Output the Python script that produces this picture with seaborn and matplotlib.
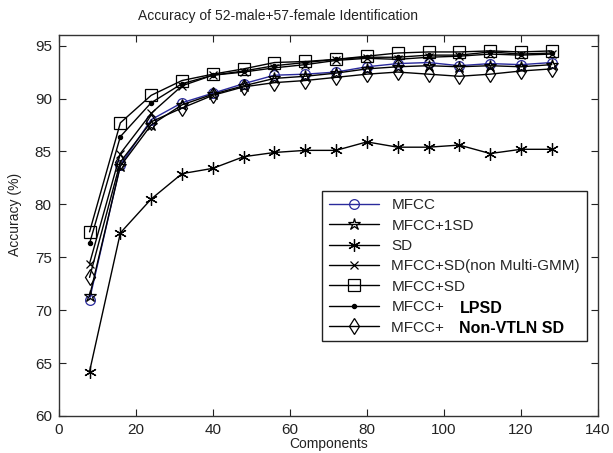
import matplotlib
matplotlib.use("Agg")
import matplotlib.pyplot as plt
import pandas as pd
import seaborn as sns

# GMM components on the x axis
components = [8, 16, 24, 32, 40, 48, 56, 64, 72, 80, 88, 96, 104, 112, 120, 128]

# accuracy (%) per feature set
mfcc = [71.0, 83.7, 88.0, 89.6, 90.5, 91.4, 92.2, 92.3, 92.5, 93.0, 93.3, 93.4, 93.1, 93.3, 93.2, 93.4]
mfcc_1sd = [71.3, 83.6, 87.5, 89.4, 90.4, 91.2, 91.9, 92.1, 92.4, 92.8, 93.0, 93.1, 93.0, 93.1, 93.0, 93.2]
sd = [64.2, 77.3, 80.5, 82.9, 83.4, 84.5, 84.9, 85.1, 85.1, 85.9, 85.4, 85.4, 85.6, 84.8, 85.2, 85.2]
mfcc_sd_nonmulti = [74.4, 84.8, 88.6, 91.2, 92.2, 92.5, 92.9, 93.2, 93.6, 93.8, 93.7, 93.9, 94.0, 94.2, 94.1, 94.2]
mfcc_sd = [77.4, 87.7, 90.3, 91.7, 92.3, 92.8, 93.4, 93.5, 93.7, 94.0, 94.3, 94.4, 94.4, 94.5, 94.4, 94.5]
mfcc_lpsd = [76.3, 86.4, 89.6, 91.4, 92.2, 92.6, 93.1, 93.4, 93.7, 93.9, 93.9, 94.1, 94.1, 94.4, 94.2, 94.3]
mfcc_nonvtln = [73.1, 84.0, 87.8, 89.1, 90.3, 91.1, 91.5, 91.7, 92.0, 92.3, 92.5, 92.3, 92.1, 92.3, 92.6, 92.8]

sns.set_style("ticks")
plt.rcParams["font.family"] = ["Liberation Sans", "DejaVu Sans"]

fig = plt.figure(figsize=(6.13, 4.53), dpi=100)
ax = fig.add_axes([0.0958, 0.0817, 0.8797, 0.841])

# (label, values, colour, marker, markersize, filled)
series = [
    ("MFCC", mfcc, "#2a2a9c", "o", 7, False),
    ("MFCC+1SD", mfcc_1sd, "black", "*", 9, False),
    ("SD", sd, "black", (6, 2, 0), 9, True),
    ("MFCC+SD(non Multi-GMM)", mfcc_sd_nonmulti, "black", "x", 6, True),
    ("MFCC+SD", mfcc_sd, "black", "s", 9, False),
    ("MFCC+", mfcc_lpsd, "black", ".", 6, True),
    ("MFCC+ ", mfcc_nonvtln, "black", "d", 8, False),
]

for label, vals, col, mk, ms, filled in series:
    df = pd.DataFrame({"Components": components, "Accuracy": vals})
    sns.lineplot(data=df, x="Components", y="Accuracy", ax=ax, color=col,
                 marker=mk, markersize=ms, linewidth=1.0,
                 markerfacecolor=col if filled else "none",
                 markeredgecolor=col, markeredgewidth=0.9, label=label)

ax.set_xlim(0, 140)
ax.set_ylim(60, 96)
ax.set_xticks(range(0, 141, 20))
ax.set_yticks(range(60, 96, 5))
ax.tick_params(direction="in", top=True, right=True, length=5, width=0.8,
               labelsize=11, colors="#222222", pad=5)
for sp in ax.spines.values():
    sp.set_visible(True)
    sp.set_linewidth(1.0)
    sp.set_color("#333333")

ax.set_xlabel("Components", fontsize=10, color="#222222")
ax.set_ylabel("Accuracy (%)", fontsize=10, color="#222222")
ax.xaxis.set_label_coords(0.5, -0.055)
ax.yaxis.set_label_coords(-0.068, 0.53)
fig.text(0.453, 0.965, "Accuracy of 52-male+57-female Identification",
         ha="center", va="center", fontsize=10, color="#222222")

leg = ax.legend(loc="upper left", bbox_to_anchor=(0.474, 0.61), fontsize=11,
                frameon=True, fancybox=False, framealpha=1, edgecolor="#222222",
                handlelength=3.3, labelspacing=0.42, borderpad=0.45)
leg.get_frame().set_linewidth(1.0)

# bold suffixes written over the last two legend entries
fig.canvas.draw()
renderer = fig.canvas.get_renderer()
texts = leg.get_texts()
for txt, extra, gap in [(texts[5], "LPSD", 16), (texts[6], "Non-VTLN SD", 10)]:
    bb = txt.get_window_extent(renderer)
    x0, y0 = fig.transFigure.inverted().transform((bb.x1 + gap, (bb.y0 + bb.y1) / 2 - 1))
    fig.text(x0, y0, extra, fontsize=11.5, fontweight="bold", ha="left",
             va="center", color="black")

fig.savefig("out.png", dpi=100)
